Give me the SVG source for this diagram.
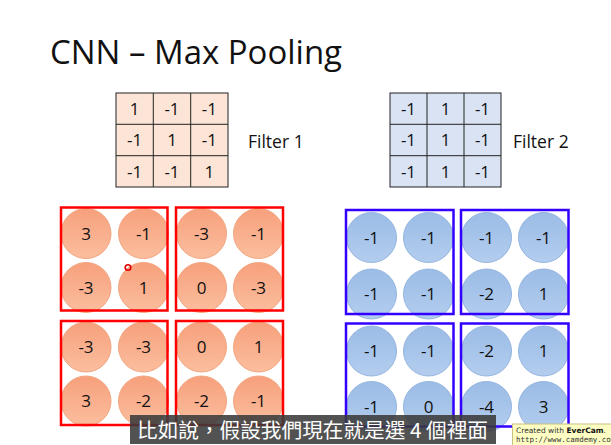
<svg xmlns="http://www.w3.org/2000/svg" width="611" height="445" viewBox="0 0 611 445">
<defs>
<linearGradient id="gO" x1="0" y1="0" x2="0" y2="1">
<stop offset="0" stop-color="#F7A07C"/>
<stop offset="1" stop-color="#FBBE9E"/>
</linearGradient>
<linearGradient id="gB" x1="0" y1="0" x2="0" y2="1">
<stop offset="0" stop-color="#9BBCE6"/>
<stop offset="1" stop-color="#B3CDEE"/>
</linearGradient>
<style>
text{font-family:"Open Sans","Noto Sans","Liberation Sans",sans-serif;fill:#111}
.num{font-size:17px;text-anchor:middle}
.cO{fill:url(#gO);stroke:#F2A57F;stroke-width:1}
.cB{fill:url(#gB);stroke:#93B4E0;stroke-width:1}
.rbox{fill:none;stroke:#FF0000;stroke-width:2.5}
.bbox{fill:none;stroke:#3300FF;stroke-width:2.5}
.g1{fill:#FCE4D6;stroke:#222;stroke-width:1}
.g2{fill:#DAE3F3;stroke:#222;stroke-width:1}
.gl{stroke:#222;stroke-width:1}
.lbl{font-size:17.5px}
</style>
</defs>
<rect width="611" height="445" fill="#fff"/>
<text x="50" y="64" font-size="33" textLength="292" lengthAdjust="spacingAndGlyphs">CNN – Max Pooling</text>

<g id="filter1">
<rect class="g1" x="116" y="93" width="112" height="94"/>
<line class="gl" x1="153.3" y1="93" x2="153.3" y2="187"/>
<line class="gl" x1="190.7" y1="93" x2="190.7" y2="187"/>
<line class="gl" x1="116" y1="124.3" x2="228" y2="124.3"/>
<line class="gl" x1="116" y1="155.7" x2="228" y2="155.7"/>
<text class="num" x="134.7" y="115">1</text><text class="num" x="172" y="115">-1</text><text class="num" x="209.3" y="115">-1</text>
<text class="num" x="134.7" y="146">-1</text><text class="num" x="172" y="146">1</text><text class="num" x="209.3" y="146">-1</text>
<text class="num" x="134.7" y="177.5">-1</text><text class="num" x="172" y="177.5">-1</text><text class="num" x="209.3" y="177.5">1</text>
<text class="lbl" x="248" y="148">Filter 1</text>
</g>

<g id="filter2">
<rect class="g2" x="390" y="93" width="111" height="94"/>
<line class="gl" x1="427" y1="93" x2="427" y2="187"/>
<line class="gl" x1="464" y1="93" x2="464" y2="187"/>
<line class="gl" x1="390" y1="124.3" x2="501" y2="124.3"/>
<line class="gl" x1="390" y1="155.7" x2="501" y2="155.7"/>
<text class="num" x="408.5" y="115">-1</text><text class="num" x="445.5" y="115">1</text><text class="num" x="482.5" y="115">-1</text>
<text class="num" x="408.5" y="146">-1</text><text class="num" x="445.5" y="146">1</text><text class="num" x="482.5" y="146">-1</text>
<text class="num" x="408.5" y="177.5">-1</text><text class="num" x="445.5" y="177.5">1</text><text class="num" x="482.5" y="177.5">-1</text>
<text class="lbl" x="513" y="148">Filter 2</text>
</g>

<g id="red-top-left">
<circle class="cO" cx="86" cy="233.5" r="25"/><circle class="cO" cx="143.5" cy="233.5" r="25"/>
<circle class="cO" cx="86" cy="287.5" r="25"/><circle class="cO" cx="143.5" cy="287.5" r="25"/>
<text class="num" x="86" y="239.5">3</text><text class="num" x="143.5" y="239.5">-1</text>
<text class="num" x="86" y="293.5">-3</text><text class="num" x="143.5" y="293.5">1</text>
<rect class="rbox" x="61" y="207.5" width="106.5" height="103"/>
</g>
<g id="red-top-right">
<circle class="cO" cx="201.5" cy="233.5" r="25"/><circle class="cO" cx="258.5" cy="233.5" r="25"/>
<circle class="cO" cx="201.5" cy="287.5" r="25"/><circle class="cO" cx="258.5" cy="287.5" r="25"/>
<text class="num" x="201.5" y="239.5">-3</text><text class="num" x="258.5" y="239.5">-1</text>
<text class="num" x="201.5" y="293.5">0</text><text class="num" x="258.5" y="293.5">-3</text>
<rect class="rbox" x="176" y="207.5" width="107" height="103"/>
</g>
<g id="red-bottom-left">
<circle class="cO" cx="86" cy="347" r="25"/><circle class="cO" cx="143.5" cy="347" r="25"/>
<circle class="cO" cx="86" cy="401" r="25"/><circle class="cO" cx="143.5" cy="401" r="25"/>
<text class="num" x="86" y="353">-3</text><text class="num" x="143.5" y="353">-3</text>
<text class="num" x="86" y="407">3</text><text class="num" x="143.5" y="407">-2</text>
<rect class="rbox" x="61" y="321" width="106.5" height="104"/>
</g>
<g id="red-bottom-right">
<circle class="cO" cx="201.5" cy="347" r="25"/><circle class="cO" cx="258.5" cy="347" r="25"/>
<circle class="cO" cx="201.5" cy="401" r="25"/><circle class="cO" cx="258.5" cy="401" r="25"/>
<text class="num" x="201.5" y="353">0</text><text class="num" x="258.5" y="353">1</text>
<text class="num" x="201.5" y="407">-2</text><text class="num" x="258.5" y="407">-1</text>
<rect class="rbox" x="176" y="321" width="107" height="104"/>
</g>

<g id="blue-top-left">
<circle class="cB" cx="371.5" cy="237.5" r="25"/><circle class="cB" cx="428.5" cy="237.5" r="25"/>
<circle class="cB" cx="371.5" cy="294" r="25"/><circle class="cB" cx="428.5" cy="294" r="25"/>
<text class="num" x="371.5" y="243.5">-1</text><text class="num" x="428.5" y="243.5">-1</text>
<text class="num" x="371.5" y="300">-1</text><text class="num" x="428.5" y="300">-1</text>
<rect class="bbox" x="346" y="210" width="107.5" height="104"/>
</g>
<g id="blue-top-right">
<circle class="cB" cx="486.5" cy="237.5" r="25"/><circle class="cB" cx="543.5" cy="237.5" r="25"/>
<circle class="cB" cx="486.5" cy="294" r="25"/><circle class="cB" cx="543.5" cy="294" r="25"/>
<text class="num" x="486.5" y="243.5">-1</text><text class="num" x="543.5" y="243.5">-1</text>
<text class="num" x="486.5" y="300">-2</text><text class="num" x="543.5" y="300">1</text>
<rect class="bbox" x="461" y="210" width="107.5" height="104"/>
</g>
<g id="blue-bottom-left">
<circle class="cB" cx="371.5" cy="351" r="25"/><circle class="cB" cx="428.5" cy="351" r="25"/>
<circle class="cB" cx="371.5" cy="406.5" r="25"/><circle class="cB" cx="428.5" cy="406.5" r="25"/>
<text class="num" x="371.5" y="357">-1</text><text class="num" x="428.5" y="357">-1</text>
<text class="num" x="371.5" y="412.5">-1</text><text class="num" x="428.5" y="412.5">0</text>
<rect class="bbox" x="346" y="323.5" width="107.5" height="103"/>
</g>
<g id="blue-bottom-right">
<circle class="cB" cx="486.5" cy="351" r="25"/><circle class="cB" cx="543.5" cy="351" r="25"/>
<circle class="cB" cx="486.5" cy="406.5" r="25"/><circle class="cB" cx="543.5" cy="406.5" r="25"/>
<text class="num" x="486.5" y="357">-2</text><text class="num" x="543.5" y="357">1</text>
<text class="num" x="486.5" y="412.5">-4</text><text class="num" x="543.5" y="412.5">3</text>
<rect class="bbox" x="461" y="323.5" width="107.5" height="103"/>
</g>

<circle cx="128" cy="267.5" r="2.8" fill="none" stroke="#E00000" stroke-width="1.6"/>

<g id="subtitle">
<rect x="130" y="415" width="366" height="29" fill="#3a3a3a" fill-opacity="0.88"/>
<text x="137" y="437.5" font-size="20" textLength="351" lengthAdjust="spacingAndGlyphs" style="fill:#fff;font-family:'Noto Sans CJK TC','Noto Sans CJK SC',sans-serif">比如說，假設我們現在就是選 4 個裡面</text>
</g>
<g id="watermark">
<rect x="512.5" y="424" width="100" height="22" fill="#FFFFC4" stroke="#C8C080" stroke-width="1"/>
<text x="516" y="432.5" font-size="7.5" style="font-family:'DejaVu Sans',sans-serif;fill:#333">Created with <tspan font-weight="bold" fill="#111">EverCam</tspan>.</text>
<text x="516" y="442" font-size="7.5" style="font-family:'DejaVu Sans Mono',monospace;fill:#333">http://www.camdemy.com</text>
</g>
</svg>
